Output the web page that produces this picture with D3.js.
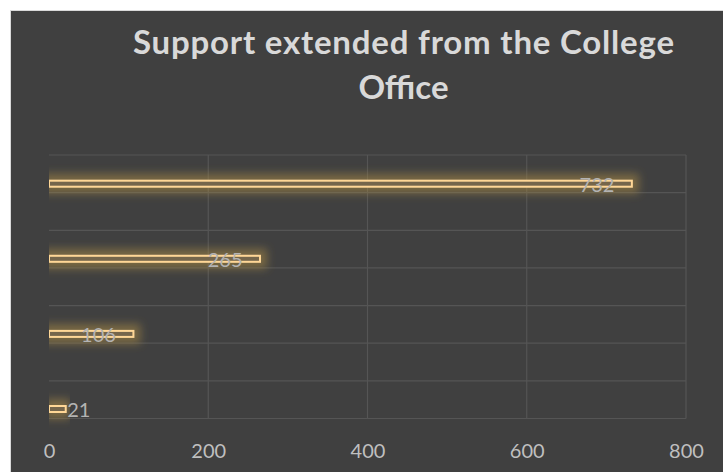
<!DOCTYPE html>
<html>
<head>
<meta charset="utf-8">
<script src="https://cdn.jsdelivr.net/npm/d3@7"></script>
<style>
  body { margin: 0; background: #ffffff; }
  svg { display: block; }
</style>
</head>
<body>
<div id="chart-area"></div>
<script>
// data, bottom to top as in the original
var categories = ["1", "2", "3", "4"];
var values = [21, 106, 265, 732];
var xTicks = [0, 200, 400, 600, 800];
var titleLines = ["Support extended from the College", "Office"];

var W = 723, H = 472;
var plot = { left: 49, right: 686, top: 155, bottom: 418.5 };

var svg = d3.select("#chart-area")
    .append("svg")
        .attr("width", W)
        .attr("height", H);

// glow filter for the bars
var defs = svg.append("defs");
var glow = defs.append("filter")
    .attr("id", "glow")
    .attr("x", "-20%").attr("y", "-500%")
    .attr("width", "140%").attr("height", "1100%");
glow.append("feMorphology")
    .attr("in", "SourceAlpha")
    .attr("operator", "dilate")
    .attr("radius", 6)
    .attr("result", "grown");
glow.append("feGaussianBlur")
    .attr("in", "grown")
    .attr("stdDeviation", 4)
    .attr("result", "blur");
glow.append("feFlood")
    .attr("flood-color", "#a88a45")
    .attr("flood-opacity", 0.55);
glow.append("feComposite")
    .attr("in2", "blur")
    .attr("operator", "in")
    .attr("result", "halo");
var merge = glow.append("feMerge");
merge.append("feMergeNode").attr("in", "halo");
merge.append("feMergeNode").attr("in", "SourceGraphic");

defs.append("clipPath")
    .attr("id", "plot-clip")
  .append("rect")
    .attr("x", plot.left)
    .attr("y", 0)
    .attr("width", W - plot.left)
    .attr("height", H);

// chart background with the light border
svg.append("rect")
    .attr("x", 10.5)
    .attr("y", 10.5)
    .attr("width", W)
    .attr("height", H)
    .attr("fill", "#404040")
    .attr("stroke", "#d9d9d9")
    .attr("stroke-width", 1);

// Title
var title = svg.append("text")
    .attr("x", 403.5)
    .attr("y", 53.5)
    .attr("text-anchor", "middle")
    .attr("font-family", "Lato, 'Open Sans', sans-serif")
    .attr("font-weight", "bold")
    .attr("font-size", "33px")
    .attr("fill", "#d9d9d9");
title.selectAll("tspan")
    .data(titleLines)
    .enter().append("tspan")
        .attr("x", 403.5)
        .attr("dy", function(d, i){ return i === 0 ? 0 : 45; })
        .attr("textLength", function(d, i){ return i === 0 ? 541 : null; })
        .attr("lengthAdjust", "spacing")
        .text(function(d){ return d; });

// X Scale
var x = d3.scaleLinear()
    .domain([0, 800])
    .range([plot.left, plot.right]);

// Y Scale (bar centres)
var y = d3.scalePoint()
    .domain(categories)
    .range([409, 183.7]);

// horizontal gridlines, two per category
var gy = d3.scaleLinear()
    .domain([0, 7])
    .range([plot.bottom, plot.top]);

var grid = svg.append("g")
    .attr("stroke", "#555555")
    .attr("stroke-width", 1.2)
    .attr("fill", "none");

grid.selectAll(".hgrid")
    .data(d3.range(8))
    .enter().append("line")
        .attr("class", "hgrid")
        .attr("x1", x(0))
        .attr("x2", x(800))
        .attr("y1", function(d){ return gy(d); })
        .attr("y2", function(d){ return gy(d); });

grid.selectAll(".vgrid")
    .data(xTicks.slice(1))
    .enter().append("line")
        .attr("class", "vgrid")
        .attr("x1", function(d){ return x(d); })
        .attr("x2", function(d){ return x(d); })
        .attr("y1", plot.top)
        .attr("y2", plot.bottom);

// X Axis labels
var xAxis = d3.axisBottom(x)
    .tickValues(xTicks)
    .tickSize(0)
    .tickPadding(0);

var xAxisGroup = svg.append("g")
    .attr("transform", "translate(0," + 441 + ")")
    .call(xAxis);
xAxisGroup.select(".domain").remove();
xAxisGroup.selectAll("text")
    .attr("dy", 0)
    .attr("y", 16.5)
    .attr("font-family", "Lato, 'Open Sans', sans-serif")
    .attr("font-size", "20px")
    .attr("fill", "#bfbfbf");

// Bars
var barH = 6;
var bars = svg.append("g")
    .attr("clip-path", "url(#plot-clip)");

bars.selectAll("rect")
    .data(values)
    .enter().append("rect")
        .attr("x", x(0))
        .attr("y", function(d, i){ return y(categories[i]) - barH / 2; })
        .attr("width", function(d){ return x(d) - x(0); })
        .attr("height", barH)
        .attr("fill", "#75664c")
        .attr("stroke", "#ffd796")
        .attr("stroke-width", 2)
        .attr("filter", "url(#glow)");

// Value labels
svg.append("g").selectAll("text")
    .data(values)
    .enter().append("text")
        .attr("x", function(d){ return d < 50 ? x(d) + 1.5 : x(d) - 17.5; })
        .attr("y", function(d, i){ return y(categories[i]) + 8; })
        .attr("text-anchor", function(d){ return d < 50 ? "start" : "end"; })
        .attr("font-family", "Lato, 'Open Sans', sans-serif")
        .attr("font-size", "20px")
        .attr("fill", "#b3b3b3")
        .text(function(d){ return d; });
</script>
</body>
</html>
